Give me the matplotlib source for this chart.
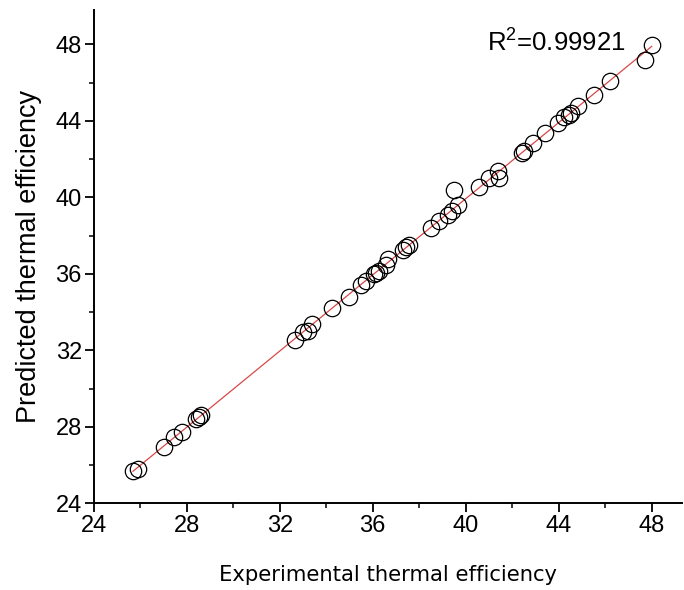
import numpy as np
import matplotlib.pyplot as plt
from matplotlib.ticker import MultipleLocator

# experimental vs predicted thermal efficiency
experimental = [25.69, 25.90, 27.01, 27.44, 27.81, 28.40, 28.55, 28.63,
                32.64, 33.00, 33.21, 33.40, 34.26, 34.97, 35.50, 35.72,
                36.05, 36.15, 36.25, 36.55, 36.65, 37.29, 37.45, 37.58,
                38.51, 38.84, 39.23, 39.40, 39.66, 39.51, 40.56, 40.99,
                41.38, 41.45, 42.42, 42.52, 42.88, 43.42, 43.95, 44.24,
                44.43, 44.53, 44.82, 45.50, 46.20, 47.72, 48.00]
predicted = [25.67, 25.81, 26.95, 27.49, 27.73, 28.40, 28.50, 28.60,
             32.56, 32.94, 33.03, 33.38, 34.21, 34.79, 35.40, 35.65,
             36.00, 36.05, 36.15, 36.45, 36.80, 37.27, 37.40, 37.53,
             38.40, 38.75, 39.10, 39.30, 39.59, 40.41, 40.55, 41.01,
             41.40, 41.01, 42.32, 42.41, 42.84, 43.37, 43.89, 44.20,
             44.33, 44.41, 44.78, 45.36, 46.07, 47.20, 47.99]
r2_label = r"R$^{2}$=0.99921"
ticks = [24, 28, 32, 36, 40, 44, 48]

plt.rcParams.update({
    "font.family": ["Liberation Sans", "DejaVu Sans"],
    "font.size": 17,
    "mathtext.fontset": "custom",
    "mathtext.rm": "Liberation Sans",
    "mathtext.it": "Liberation Sans",
    "mathtext.default": "regular",
})

x = np.array(experimental)
y = np.array(predicted)

fig = plt.figure(figsize=(6.84, 5.9), dpi=100, facecolor='white')
ax = fig.add_axes([0.137, 0.147, 0.860, 0.836])

# linear fit line
b, a = np.polyfit(x, y, 1)
xl = np.array([x.min(), x.max()])
ax.plot(xl, a + b * xl, color='#d94848', lw=0.9, zorder=1)

ax.plot(x, y, linestyle='none', marker='o', markersize=11.8,
        markerfacecolor='none', markeredgecolor='black', markeredgewidth=0.9, zorder=2)

ax.set_xlim(24, 49.3)
ax.set_ylim(24, 49.8)
ax.set_xticks(ticks)
ax.set_yticks(ticks)
ax.xaxis.set_minor_locator(MultipleLocator(2))
ax.yaxis.set_minor_locator(MultipleLocator(2))
ax.tick_params(which='major', direction='out', length=6.5, width=1.3, labelsize=17, pad=2)
ax.tick_params(which='minor', direction='out', length=3.5, width=1.1)

for s in ['top', 'right']:
    ax.spines[s].set_visible(False)
for s in ['left', 'bottom']:
    ax.spines[s].set_linewidth(1.4)

ax.set_xlabel('Experimental thermal efficiency', family='DejaVu Sans', fontsize=15.2, labelpad=20)
ax.set_ylabel('Predicted thermal efficiency', fontsize=19.5, labelpad=10)

ax.text(40.9, 48.1, r2_label, ha='left', va='center', fontsize=18.5)

fig.savefig('out.png', dpi=100, facecolor='white')
